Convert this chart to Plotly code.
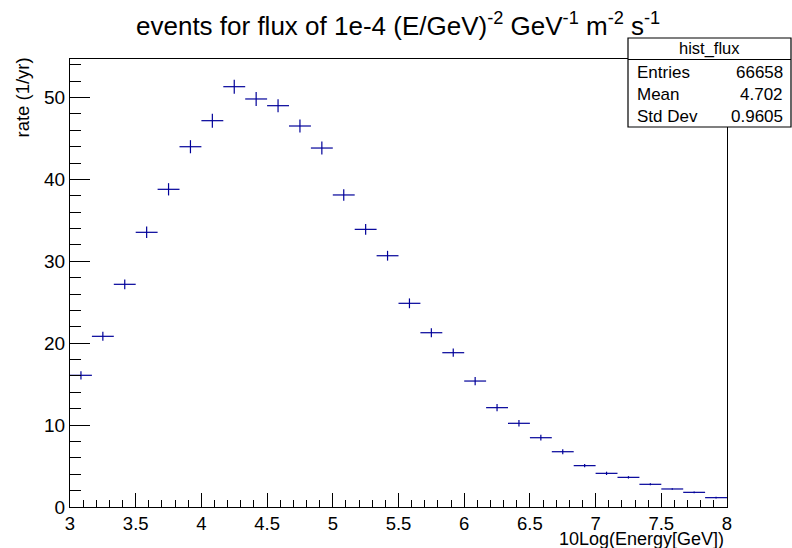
import plotly.graph_objects as go

# ---- data ----
bin_centers = [3.0833, 3.25, 3.4167, 3.5833, 3.75, 3.9167, 4.0833, 4.25, 4.4167, 4.5833,
               4.75, 4.9167, 5.0833, 5.25, 5.4167, 5.5833, 5.75, 5.9167, 6.0833, 6.25,
               6.4167, 6.5833, 6.75, 6.9167, 7.0833, 7.25, 7.4167, 7.5833, 7.75, 7.9167]
rates = [16.08, 20.84, 27.19, 33.54, 38.79, 43.99, 47.17, 51.32, 49.82, 49.0,
         46.52, 43.83, 38.10, 33.90, 30.68, 24.87, 21.28, 18.84, 15.38, 12.13,
         10.22, 8.46, 6.75, 5.05, 4.11, 3.62, 2.77, 2.20, 1.79, 1.14]
rate_errors = [0.50, 0.55, 0.60, 0.70, 0.75, 0.80, 0.85, 0.85, 0.85, 0.80,
               0.80, 0.80, 0.70, 0.65, 0.60, 0.60, 0.55, 0.50, 0.50, 0.45,
               0.40, 0.35, 0.30, 0.20, 0.20, 0.15, 0.12, 0.10, 0.10, 0.10]
bin_half_width = 5.0 / 60.0
x_tick_values = [3, 3.5, 4, 4.5, 5, 5.5, 6, 6.5, 7, 7.5, 8]
x_tick_labels = ["3", "3.5", "4", "4.5", "5", "5.5", "6", "6.5", "7", "7.5", "8"]
stats_labels = ["Entries", "Mean", "Std Dev"]
stats_values = ["66658", "4.702", "0.9605"]
hist_name = "hist_flux"

W, H = 792, 548
L, R, T, B = 70, 727, 59, 507  # frame in pixels
pw, ph = R - L, B - T

def px(x):
    return (x - L) / pw

def py(y):
    return (B - y) / ph

COL = "#000099"
FONT = "Liberation Sans, Arial, Helvetica, sans-serif"

fig = go.Figure()
fig.add_trace(go.Scatter(
    x=bin_centers, y=rates, mode="markers",
    marker=dict(size=0, color="rgba(0,0,0,0)", line=dict(width=0)),
    error_y=dict(type="data", array=rate_errors, visible=True, color=COL, thickness=1.2, width=0),
    error_x=dict(type="constant", value=bin_half_width, visible=True, color=COL, thickness=1.2, width=0),
    showlegend=False, hoverinfo="x+y",
))

fig.update_layout(
    width=W, height=H,
    margin=dict(l=L, r=W - R, t=T, b=H - B, pad=0),
    paper_bgcolor="white", plot_bgcolor="white",
    font=dict(family=FONT, color="black", size=19),
    xaxis=dict(range=[3, 8], showgrid=False, zeroline=False, showline=True, mirror=True,
               linecolor="black", linewidth=1.2, ticks="inside", ticklen=14, tickwidth=1.2,
               tickcolor="black", tickvals=x_tick_values, ticktext=x_tick_labels,
               minor=dict(ticks="inside", ticklen=7, tickwidth=1.2, tickcolor="black", dtick=0.1, tick0=3),
               tickfont=dict(size=18.5), ticklabelstandoff=0),
    yaxis=dict(range=[0, (B - T) / 8.19], showgrid=False, zeroline=False, showline=True, mirror=True,
               linecolor="black", linewidth=1.2, ticks="inside", ticklen=20, tickwidth=1.2,
               tickcolor="black", dtick=10, tick0=0,
               minor=dict(ticks="inside", ticklen=11, tickwidth=1.2, tickcolor="black", dtick=2, tick0=0),
               tickfont=dict(size=19), ticklabelstandoff=0),
)

annotations = [
    dict(text="events for flux of 1e-4 (E/GeV)<sup>-2</sup> GeV<sup>-1</sup> m<sup>-2</sup> s<sup>-1</sup>",
         x=px(398), y=py(25), xref="paper", yref="paper", xanchor="center", yanchor="middle",
         showarrow=False, font=dict(size=26)),
    dict(text="rate (1/yr)", textangle=-90, x=px(22), y=py(97.5), xref="paper", yref="paper",
         xanchor="center", yanchor="middle", showarrow=False, font=dict(size=18.5)),
    dict(text="10Log(Energy[GeV])", x=px(725), y=py(539), xref="paper", yref="paper",
         xanchor="right", yanchor="middle", showarrow=False, font=dict(size=18), borderpad=0),
]

# stats box
bx0, bx1, by0, by1, bhead = 628, 791, 127, 38, 59.5
shapes = [
    dict(type="rect", xref="paper", yref="paper", x0=px(bx0), x1=px(bx1), y0=py(by0), y1=py(by1),
         line=dict(color="black", width=1.2), fillcolor="white", layer="above"),
    dict(type="line", xref="paper", yref="paper", x0=px(bx0), x1=px(bx1), y0=py(bhead), y1=py(bhead),
         line=dict(color="black", width=1.2), layer="above"),
]
annotations.append(dict(text=hist_name, x=px((bx0 + bx1) / 2), y=py(49), xref="paper", yref="paper",
                        xanchor="center", yanchor="middle", showarrow=False, font=dict(size=16.5)))
row_y = [72.5, 94.5, 116.5]
for lab, val, yy in zip(stats_labels, stats_values, row_y):
    annotations.append(dict(text=lab, x=px(635), y=py(yy), xref="paper", yref="paper",
                            xanchor="left", yanchor="middle", showarrow=False, font=dict(size=17)))
    annotations.append(dict(text=val, x=px(785), y=py(yy), xref="paper", yref="paper",
                            xanchor="right", yanchor="middle", showarrow=False, font=dict(size=17)))

fig.update_layout(annotations=annotations, shapes=shapes)
fig.write_html("out.html")
